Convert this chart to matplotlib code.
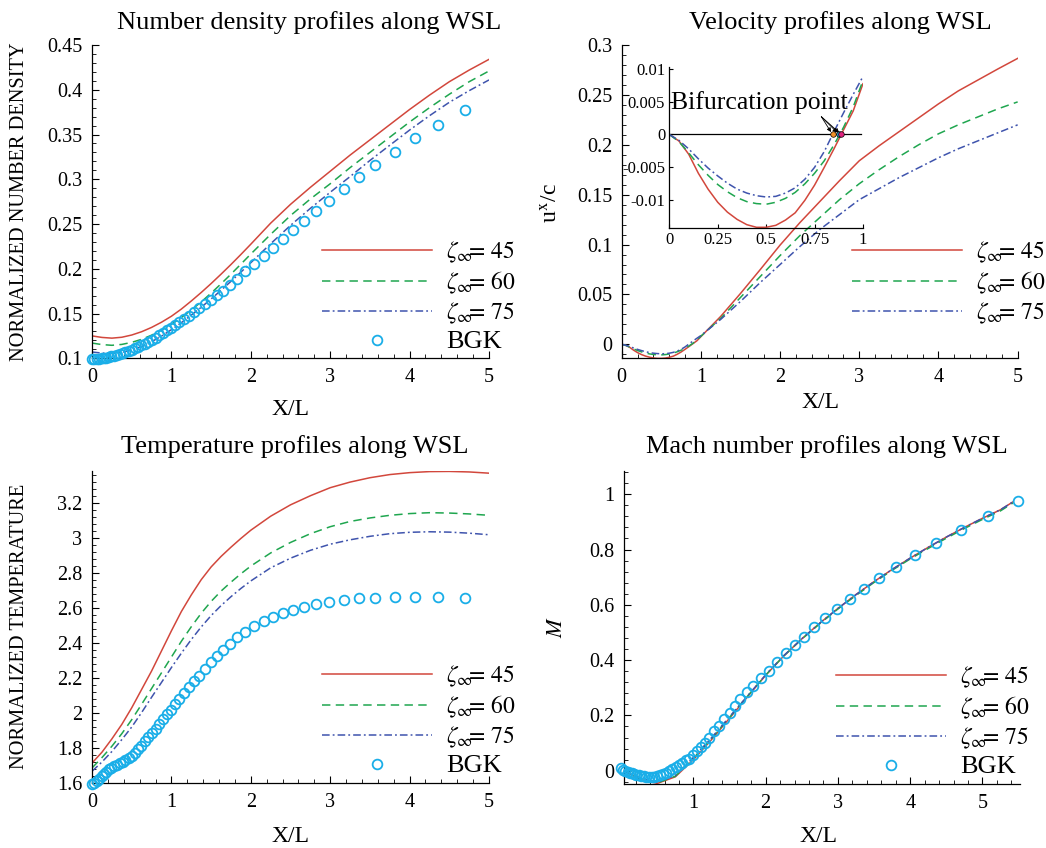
import numpy as np
import matplotlib
matplotlib.use('Agg')
import matplotlib.pyplot as plt
from matplotlib.ticker import MultipleLocator, FuncFormatter

plt.rcParams['font.family'] = ['Liberation Serif', 'DejaVu Serif']
plt.rcParams['mathtext.fontset'] = 'stix'

# ---- data ----
labels = [r'$\zeta_{\infty}\!\!\!=\,45$', r'$\zeta_{\infty}\!\!\!=\,60$', r'$\zeta_{\infty}\!\!\!=\,75$']

# x grid for the smooth model curves (density / temperature)
x_curve = [0, 0.125, 0.25, 0.375, 0.5, 0.625, 0.75, 0.875, 1.0, 1.125, 1.25, 1.375,
           1.5, 1.625, 1.75, 1.875, 2.0, 2.25, 2.5, 2.75, 3.0, 3.25, 3.5, 3.75,
           4.0, 4.25, 4.5, 4.75, 5.0]

dens_45 = [0.125, 0.1233, 0.1225, 0.1235, 0.126, 0.1297, 0.1345, 0.1403, 0.147, 0.155, 0.164, 0.1735,
           0.1835, 0.194, 0.2048, 0.216, 0.2275, 0.251, 0.272, 0.291, 0.309, 0.327, 0.344, 0.361,
           0.378, 0.394, 0.409, 0.422, 0.434]
dens_60 = [0.117, 0.1153, 0.1145, 0.1155, 0.1178, 0.1212, 0.1258, 0.1315, 0.138, 0.1455, 0.154, 0.163,
           0.1728, 0.1832, 0.194, 0.2052, 0.2165, 0.2385, 0.2595, 0.278, 0.295, 0.313, 0.33, 0.347,
           0.364, 0.38, 0.395, 0.409, 0.421]
dens_75 = [0.107, 0.1058, 0.1055, 0.1065, 0.1092, 0.1132, 0.1185, 0.1248, 0.132, 0.1398, 0.1482, 0.157,
           0.1663, 0.176, 0.186, 0.1963, 0.2068, 0.228, 0.2485, 0.2675, 0.2855, 0.303, 0.321, 0.338,
           0.355, 0.371, 0.386, 0.399, 0.411]

temp_45 = [1.714, 1.776, 1.852, 1.935, 2.03, 2.135, 2.24, 2.355, 2.47, 2.58, 2.675, 2.762,
           2.835, 2.895, 2.948, 2.998, 3.045, 3.125, 3.19, 3.242, 3.288, 3.32, 3.345, 3.363,
           3.374, 3.38, 3.381, 3.378, 3.371]
temp_60 = [1.686, 1.745, 1.81, 1.882, 1.962, 2.05, 2.14, 2.23, 2.32, 2.41, 2.493, 2.57,
           2.638, 2.697, 2.748, 2.796, 2.84, 2.915, 2.975, 3.025, 3.065, 3.095, 3.115, 3.13,
           3.14, 3.145, 3.143, 3.138, 3.13]
temp_75 = [1.667, 1.72, 1.78, 1.848, 1.92, 2.003, 2.09, 2.175, 2.26, 2.342, 2.42, 2.492,
           2.557, 2.614, 2.665, 2.712, 2.755, 2.83, 2.885, 2.93, 2.965, 2.99, 3.01, 3.025,
           3.033, 3.036, 3.034, 3.028, 3.019]

# velocity: fine steps up to X/L = 1 (also used by the inset)
x_vel = [0, 0.05, 0.1, 0.15, 0.2, 0.25, 0.3, 0.35, 0.4, 0.45, 0.5,
         0.55, 0.6, 0.65, 0.7, 0.75, 0.8, 0.85, 0.9, 0.95, 1.0,
         1.25, 1.5, 1.75, 2.0, 2.25, 2.5, 2.75, 3.0, 3.25, 3.5,
         3.75, 4.0, 4.25, 4.5, 4.75, 5.0]
vel_45 = [0, -0.001, -0.003, -0.0059, -0.0083, -0.0103, -0.0118, -0.0129, -0.0137, -0.0141, -0.0141,
          -0.0138, -0.013, -0.0119, -0.01, -0.0077, -0.005, -0.0022, 0.0007, 0.0036, 0.0077,
          0.028, 0.051, 0.075, 0.0995, 0.122, 0.143, 0.164, 0.184, 0.199, 0.213,
          0.227, 0.241, 0.254, 0.265, 0.276, 0.2866]
vel_60 = [0, -0.0011, -0.0028, -0.0046, -0.0062, -0.0076, -0.0087, -0.0096, -0.0102, -0.0105, -0.0106,
          -0.0103, -0.0097, -0.0088, -0.0075, -0.0059, -0.004, -0.0016, 0.0011, 0.0042, 0.0082,
          0.026, 0.047, 0.068, 0.089, 0.109, 0.127, 0.145, 0.161, 0.175, 0.188,
          0.2, 0.211, 0.22, 0.228, 0.236, 0.243]
vel_75 = [0, -0.0009, -0.0022, -0.0037, -0.0051, -0.0063, -0.0074, -0.0083, -0.0089, -0.0093, -0.0095,
          -0.0094, -0.0089, -0.0081, -0.0068, -0.005, -0.0026, 0.0004, 0.0033, 0.0061, 0.0088,
          0.025, 0.043, 0.062, 0.08, 0.098, 0.115, 0.13, 0.145, 0.156, 0.167,
          0.177, 0.187, 0.196, 0.204, 0.212, 0.22]

# bifurcation points (zero crossings) in the inset
bif_x = [0.843, 0.877, 0.888]
bif_colors = ['#f0902a', '#2aa6dc', '#e0227e']

x_mach = [0, 0.25, 0.5, 0.75, 1.0, 1.25, 1.5, 1.75, 2.0, 2.25, 2.5,
          2.75, 3.0, 3.25, 3.5, 3.75, 4.0, 4.25, 4.5, 4.75, 5.0, 5.25, 5.42]
mach_45 = [0.005, -0.03, -0.046, -0.022, 0.04, 0.112, 0.19, 0.268, 0.345, 0.415, 0.477,
           0.534, 0.587, 0.637, 0.684, 0.728, 0.769, 0.808, 0.845, 0.88, 0.913, 0.944, 0.972]
mach_60 = [0.005, -0.028, -0.044, -0.02, 0.045, 0.116, 0.193, 0.27, 0.346, 0.415, 0.476,
           0.532, 0.585, 0.634, 0.681, 0.725, 0.766, 0.804, 0.841, 0.876, 0.909, 0.94, 0.968]
mach_75 = [0.005, -0.026, -0.042, -0.017, 0.048, 0.119, 0.195, 0.271, 0.347, 0.416, 0.477,
           0.534, 0.587, 0.637, 0.684, 0.728, 0.769, 0.808, 0.845, 0.88, 0.913, 0.944, 0.972]

# BGK reference solution (same grid in every panel)
x_bgk = [0, 0.03, 0.06, 0.09, 0.12, 0.15, 0.18, 0.21, 0.245, 0.28, 0.315, 0.35, 0.385, 0.42,
         0.46, 0.5, 0.54, 0.58, 0.62, 0.665, 0.71, 0.755, 0.80, 0.845, 0.895, 0.945, 0.99,
         1.05, 1.10, 1.16, 1.22, 1.29, 1.35, 1.42, 1.50, 1.58, 1.65, 1.74, 1.83, 1.93, 2.04,
         2.16, 2.28, 2.40, 2.53, 2.67, 2.82, 2.98, 3.17, 3.36, 3.57, 3.81, 4.07, 4.36, 4.70,
         5.08, 5.49]
dens_bgk = [0.0995, 0.0993, 0.0993, 0.0995, 0.0998, 0.1002, 0.1007, 0.1013, 0.102, 0.1028, 0.1037,
            0.1047, 0.1058, 0.107, 0.1083, 0.1097, 0.1112, 0.1128, 0.1145, 0.1165, 0.1186, 0.1208,
            0.1231, 0.1255, 0.1283, 0.1311, 0.1337,
            0.1372, 0.1402, 0.1439, 0.1477, 0.1521, 0.1559, 0.1603, 0.1652,
            0.1705, 0.1755, 0.182, 0.189, 0.197, 0.205,
            0.214, 0.223, 0.233, 0.243, 0.253, 0.264, 0.276, 0.289, 0.302, 0.316, 0.331,
            0.346, 0.361, 0.377, 0.394, 0.41]
temp_bgk = [1.592, 1.598, 1.61, 1.624, 1.638, 1.652, 1.665, 1.677, 1.688, 1.697, 1.705,
            1.712, 1.72, 1.729, 1.741, 1.756, 1.773, 1.792, 1.813, 1.838, 1.862, 1.886,
            1.91, 1.935, 1.963, 1.992, 2.018,
            2.052, 2.08, 2.113, 2.146, 2.183, 2.214, 2.25, 2.29,
            2.327, 2.358, 2.396, 2.432, 2.465, 2.497,
            2.524, 2.548, 2.57, 2.589, 2.607, 2.623, 2.636, 2.647, 2.655, 2.66, 2.663,
            2.664, 2.662, 2.657, 2.65, 2.64]
mach_bgk = [0.008, 0.004, 0.0, -0.004, -0.007, -0.010, -0.013, -0.015, -0.017, -0.019, -0.020,
            -0.021, -0.022, -0.022, -0.021, -0.019, -0.016, -0.012, -0.008, -0.002, 0.005, 0.012,
            0.02, 0.028, 0.037, 0.044, 0.056,
            0.071, 0.085, 0.102, 0.12, 0.145, 0.163, 0.187, 0.207,
            0.235, 0.259, 0.283, 0.307, 0.335, 0.361,
            0.393, 0.424, 0.453, 0.484, 0.518, 0.551, 0.584, 0.62, 0.657, 0.696, 0.737,
            0.781, 0.825, 0.87, 0.922, 0.976]

RED = '#d2473c'
GREEN = '#1fa64f'
BLUE = '#3f54ad'
CYAN = '#1aaee8'
styles = [(RED, '-'), (GREEN, (0, (5.5, 3.5))), (BLUE, (0, (5, 2, 1.2, 2)))]


def gfmt(v, pos):
    s = '%g' % v
    return '0' if s == '-0' else s


def mathematica_axes(ax, xmaj, xmin, ymaj, ymin, size=14.5):
    ax.spines['top'].set_visible(False)
    ax.spines['right'].set_visible(False)
    ax.spines['left'].set_linewidth(0.9)
    ax.spines['bottom'].set_linewidth(0.9)
    ax.xaxis.set_major_locator(MultipleLocator(xmaj))
    ax.yaxis.set_major_locator(MultipleLocator(ymaj))
    if xmin:
        ax.xaxis.set_minor_locator(MultipleLocator(xmin))
    if ymin:
        ax.yaxis.set_minor_locator(MultipleLocator(ymin))
    ax.xaxis.set_major_formatter(FuncFormatter(gfmt))
    ax.yaxis.set_major_formatter(FuncFormatter(gfmt))
    ax.tick_params(which='both', direction='in', top=False, right=False,
                   labelsize=size, pad=7)
    ax.tick_params(which='major', length=5, width=0.8)
    ax.tick_params(which='minor', length=3, width=0.6)


def draw_curves(ax, x, ys):
    for y, (c, ls), lab in zip(ys, styles, labels):
        ax.plot(x, y, color=c, ls=ls, lw=1.1, label=lab)


def draw_bgk(ax, x, y, xmax):
    x = np.array(x)
    y = np.array(y)
    keep = x <= xmax
    ax.plot(x[keep], y[keep], ls='none', marker='o', ms=7, mfc='none', mec=CYAN,
            mew=1.3, clip_on=False, zorder=5, label='BGK')


def add_legend(ax, px, py):
    leg = ax.legend(loc='upper left', bbox_to_anchor=(px / 1046, 1 - py / 848),
                    bbox_transform=fig.transFigure, frameon=False, fontsize=17,
                    handlelength=4.66, handletextpad=0.6, labelspacing=0.2,
                    borderpad=0, borderaxespad=0, numpoints=1)
    texts = leg.get_texts()
    if len(texts) > 3:
        texts[3].set_fontsize(19)


fig = plt.figure(figsize=(10.46, 8.48), dpi=100)

ax1 = fig.add_axes([0.0880, 0.5775, 0.3795, 0.3694])
ax2 = fig.add_axes([0.5944, 0.5775, 0.3785, 0.3694])
ax3 = fig.add_axes([0.0880, 0.0767, 0.3795, 0.3682])
ax4 = fig.add_axes([0.5966, 0.0755, 0.3786, 0.3694])

# number density
draw_curves(ax1, x_curve, [dens_45, dens_60, dens_75])
draw_bgk(ax1, x_bgk, dens_bgk, 5)
ax1.set_xlim(0, 5)
ax1.set_ylim(0.1, 0.45)
mathematica_axes(ax1, 1, 0.2, 0.05, 0.01)
add_legend(ax1, 322, 240)

# velocity
draw_curves(ax2, x_vel, [vel_45, vel_60, vel_75])
ax2.set_xlim(0, 5)
ax2.set_ylim(-0.014, 0.3)
mathematica_axes(ax2, 1, 0.2, 0.05, 0.01)
add_legend(ax2, 852, 240)

# temperature
draw_curves(ax3, x_curve, [temp_45, temp_60, temp_75])
draw_bgk(ax3, x_bgk, temp_bgk, 5)
ax3.set_xlim(0, 5)
ax3.set_ylim(1.6, 3.385)
mathematica_axes(ax3, 1, 0.2, 0.2, 0.04)
add_legend(ax3, 322, 664)

# Mach number
draw_curves(ax4, x_mach, [mach_45, mach_60, mach_75])
draw_bgk(ax4, x_bgk, mach_bgk, 6)
ax4.set_xlim(0.04, 5.52)
ax4.set_ylim(-0.048, 1.085)
mathematica_axes(ax4, 1, 0.2, 0.2, 0.04)
add_legend(ax4, 836, 665)

# inset of the velocity panel
axi = fig.add_axes([0.6399, 0.7308, 0.1851, 0.1902], facecolor='none')
n_in = 21
for y, (c, ls) in zip([vel_45, vel_60, vel_75], styles):
    axi.plot(x_vel[:n_in], y[:n_in], color=c, ls=ls, lw=1.1)
axi.axhline(0, xmax=0.99, color='k', lw=0.9, zorder=1)
for bx, bc in zip(bif_x, bif_colors):
    axi.annotate('', xy=(bx, 0), xytext=(0.785, 0.0027),
                 arrowprops=dict(arrowstyle='-|>', lw=0.6, color='k',
                                 mutation_scale=6, shrinkA=0, shrinkB=2))
    axi.plot([bx], [0], ls='none', marker='o', ms=4, mfc=bc, mec='k', mew=0.5, zorder=6)
axi.text(0.008, 0.0049, 'Bifurcation point', fontsize=18.5, va='center', ha='left')
axi.set_xlim(0, 1)
axi.set_ylim(-0.01425, 0.01025)
mathematica_axes(axi, 0.25, None, 0.005, None, size=12)
axi.tick_params(which='major', length=3, pad=3)

# titles and axis labels
fig.text(0.2954, 0.974, 'Number density profiles along WSL', fontsize=19, ha='center', va='center')
fig.text(0.803, 0.974, 'Velocity profiles along WSL', fontsize=19, ha='center', va='center')
fig.text(0.282, 0.473, 'Temperature profiles along WSL', fontsize=19, ha='center', va='center')
fig.text(0.7906, 0.474, 'Mach number profiles along WSL', fontsize=19, ha='center', va='center')

fig.text(290 / 1046, 1 - 410 / 848, 'X/L', fontsize=17, ha='center', va='center')
fig.text(820 / 1046, 1 - 403 / 848, 'X/L', fontsize=17, ha='center', va='center')
fig.text(290 / 1046, 1 - 836 / 848, 'X/L', fontsize=17, ha='center', va='center')
fig.text(818 / 1046, 1 - 837 / 848, 'X/L', fontsize=17, ha='center', va='center')

fig.text(20 / 1046, 1 - 202 / 848, 'NORMALIZED NUMBER DENSITY', fontsize=14.7,
         rotation=90, ha='center', va='center')
fig.text(20 / 1046, 1 - 626 / 848, 'NORMALIZED TEMPERATURE', fontsize=14.7,
         rotation=90, ha='center', va='center')
fig.text(552 / 1046, 1 - 203 / 848, r'u$^{\mathrm{x}}$/c', fontsize=17,
         rotation=90, ha='center', va='center')
fig.text(558 / 1046, 1 - 627 / 848, r'$M$', fontsize=16,
         rotation=90, ha='center', va='center')

fig.savefig('out.png', dpi=100)
